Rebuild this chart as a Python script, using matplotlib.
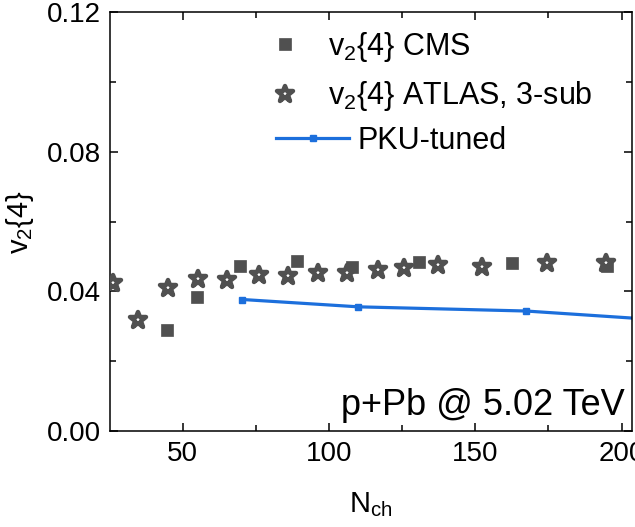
import matplotlib
matplotlib.use('Agg')
import matplotlib.pyplot as plt
from matplotlib.markers import MarkerStyle
from matplotlib.lines import Line2D
from matplotlib.ticker import MultipleLocator, FormatStrFormatter

plt.rcParams['font.family'] = ['Liberation Sans', 'DejaVu Sans']
plt.rcParams['mathtext.default'] = 'regular'

# =============================================================================
# DATA
cms_nch = [44.5, 55.0, 69.4, 89.0, 107.8, 130.6, 162.7, 195.0]
cms_v24 = [0.0289, 0.0383, 0.0472, 0.0488, 0.0470, 0.0485, 0.0483, 0.0472]

atlas_nch = [26.3, 34.6, 45.1, 55.3, 65.0, 76.1, 86.1, 96.4, 106.1,
             116.7, 125.8, 137.2, 152.4, 174.4, 194.6]
atlas_v24 = [0.0425, 0.0318, 0.0410, 0.0437, 0.0434, 0.0447, 0.0444, 0.0452,
             0.0452, 0.0461, 0.0466, 0.0475, 0.0470, 0.0482, 0.0482]

pku_nch = [70.4, 110.0, 167.3, 205.0]
pku_v24 = [0.0377, 0.0356, 0.0344, 0.0323]

label_cms = 'v$_2${4} CMS'
label_atlas = 'v$_2${4} ATLAS, 3-sub'
label_pku = 'PKU-tuned'
system_text = 'p+Pb @ 5.02 TeV'

grey = '#505050'
blue = '#1c6fdc'

# =============================================================================
fig = plt.figure(figsize=(6.35, 5.27), dpi=100)
ax = fig.add_axes([0.174, 0.1822, 0.8205, 0.7941])

star = MarkerStyle('*', joinstyle='round')

ax.plot(cms_nch, cms_v24, ls='none', marker='s', ms=9, mfc=grey, mec=grey,
        mew=0.5, zorder=3)
ax.plot(atlas_nch, atlas_v24, ls='none', marker=star, ms=12, mfc='white',
        mec=grey, mew=3.2, zorder=3)
ax.plot(pku_nch, pku_v24, color=blue, lw=2.3, marker='s', ms=5, mfc=blue,
        mec=blue, zorder=2)

ax.set_xlim(25.3, 203.4)
ax.set_ylim(0, 0.12)

ax.xaxis.set_major_locator(MultipleLocator(50))
ax.xaxis.set_minor_locator(MultipleLocator(25))
ax.yaxis.set_major_locator(MultipleLocator(0.04))
ax.yaxis.set_minor_locator(MultipleLocator(0.02))
ax.yaxis.set_major_formatter(FormatStrFormatter('%.2f'))

ax.tick_params(which='both', direction='in', top=True, right=True,
               width=1.1, labelsize=20)
ax.tick_params(which='major', length=6, pad=7)
ax.tick_params(which='minor', length=4)
for s in ax.spines.values():
    s.set_linewidth(1.1)

ax.set_xlabel('N$_{ch}$', fontsize=21, labelpad=17)
ax.set_ylabel('v$_2${4}', fontsize=21, labelpad=8)

ax.text(0.9875, 0.038, system_text, transform=ax.transAxes, ha='right',
        va='baseline', fontsize=26)

# legend: marker entries and line entry laid out separately (Origin style)
h_cms = Line2D([], [], ls='none', marker='s', ms=9, mfc=grey, mec=grey, mew=0.5)
h_atlas = Line2D([], [], ls='none', marker=star, ms=12, mfc='white', mec=grey,
                 mew=3.2)
h_pku = Line2D([], [], color=blue, lw=2.3, marker='s', ms=5, mfc=blue, mec=blue)

leg1 = ax.legend([h_cms, h_atlas], [label_cms, label_atlas], loc='upper left',
                 bbox_to_anchor=(270 / 635, 1 - 30 / 527),
                 bbox_transform=fig.transFigure, frameon=False, fontsize=22,
                 handlelength=1.0, handletextpad=0.9, borderpad=0,
                 borderaxespad=0, labelspacing=0.5)
ax.add_artist(leg1)
ax.legend([h_pku], [label_pku], loc='upper left',
          bbox_to_anchor=(276 / 635, 1 - 126 / 527),
          bbox_transform=fig.transFigure, frameon=False, fontsize=22,
          handlelength=2.4, handletextpad=0.26, borderpad=0, borderaxespad=0)

fig.savefig('out.png', dpi=100)
